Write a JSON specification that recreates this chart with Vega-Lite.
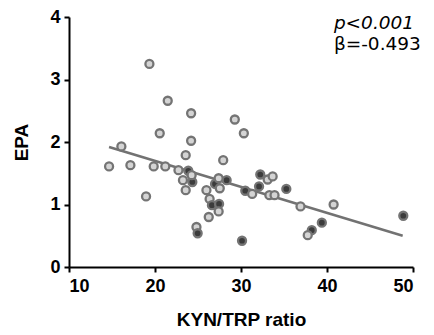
{
  "$schema": "https://vega.github.io/schema/vega-lite/v6.json",
  "width": 344,
  "height": 250,
  "autosize": "none",
  "padding": {"left": 69, "top": 17, "right": 21, "bottom": 68},
  "background": "white",
  "config": {
    "view": {"stroke": null},
    "axis": {
      "grid": false,
      "domainColor": "black",
      "domainWidth": 2,
      "tickColor": "black",
      "tickWidth": 2,
      "tickSize": 5,
      "labelFont": "Liberation Sans",
      "labelFontWeight": "bold",
      "labelFontSize": 18,
      "labelColor": "black",
      "titleFont": "Liberation Sans",
      "titleFontWeight": "bold",
      "titleFontSize": 19,
      "titleColor": "black"
    }
  },
  "layer": [
    {
      "data": {"values": [{"x": 14.66, "y": 1.92}, {"x": 48.8, "y": 0.5}]},
      "mark": {"type": "line", "color": "#727272", "strokeWidth": 2.5},
      "encoding": {
        "x": {"field": "x", "type": "quantitative", "scale": {"domain": [10, 50], "nice": false},
              "axis": {"values": [10, 20, 30, 40, 50], "format": "d", "title": "KYN/TRP ratio", "labelPadding": 5, "titlePadding": 15}},
        "y": {"field": "y", "type": "quantitative", "scale": {"domain": [0, 4], "nice": false},
              "axis": {"values": [0, 1, 2, 3, 4], "format": "d", "title": "EPA", "labelPadding": 4, "titlePadding": 18}}
      }
    },
    {
      "data": {"values": [
        {"x": 19.35, "y": 3.25, "g": "light"},
        {"x": 21.48, "y": 2.66, "g": "light"},
        {"x": 24.2, "y": 2.46, "g": "light"},
        {"x": 29.28, "y": 2.36, "g": "light"},
        {"x": 30.33, "y": 2.14, "g": "light"},
        {"x": 20.55, "y": 2.14, "g": "light"},
        {"x": 24.2, "y": 2.02, "g": "light"},
        {"x": 16.09, "y": 1.93, "g": "light"},
        {"x": 14.66, "y": 1.61, "g": "light"},
        {"x": 17.14, "y": 1.63, "g": "light"},
        {"x": 19.85, "y": 1.61, "g": "light"},
        {"x": 21.2, "y": 1.61, "g": "light"},
        {"x": 23.57, "y": 1.79, "g": "light"},
        {"x": 27.93, "y": 1.71, "g": "light"},
        {"x": 18.96, "y": 1.13, "g": "light"},
        {"x": 23.87, "y": 1.54, "g": "dark"},
        {"x": 24.34, "y": 1.36, "g": "dark"},
        {"x": 22.73, "y": 1.55, "g": "light"},
        {"x": 24.26, "y": 1.47, "g": "light"},
        {"x": 23.25, "y": 1.39, "g": "light"},
        {"x": 23.57, "y": 1.23, "g": "light"},
        {"x": 26.98, "y": 1.33, "g": "dark"},
        {"x": 28.33, "y": 1.39, "g": "dark"},
        {"x": 27.4, "y": 1.42, "g": "light"},
        {"x": 27.53, "y": 1.26, "g": "light"},
        {"x": 25.98, "y": 1.23, "g": "light"},
        {"x": 26.35, "y": 1.09, "g": "light"},
        {"x": 26.62, "y": 0.99, "g": "dark"},
        {"x": 27.45, "y": 1.01, "g": "dark"},
        {"x": 27.4, "y": 0.89, "g": "light"},
        {"x": 26.25, "y": 0.8, "g": "light"},
        {"x": 24.82, "y": 0.64, "g": "light"},
        {"x": 24.96, "y": 0.54, "g": "dark"},
        {"x": 30.12, "y": 0.42, "g": "dark"},
        {"x": 30.5, "y": 1.22, "g": "dark"},
        {"x": 31.3, "y": 1.17, "g": "light"},
        {"x": 32.24, "y": 1.48, "g": "dark"},
        {"x": 32.1, "y": 1.29, "g": "dark"},
        {"x": 33.1, "y": 1.4, "g": "light"},
        {"x": 33.68, "y": 1.45, "g": "light"},
        {"x": 33.3, "y": 1.15, "g": "light"},
        {"x": 33.9, "y": 1.15, "g": "light"},
        {"x": 35.27, "y": 1.25, "g": "dark"},
        {"x": 36.92, "y": 0.97, "g": "light"},
        {"x": 40.77, "y": 1.0, "g": "light"},
        {"x": 39.4, "y": 0.71, "g": "dark"},
        {"x": 38.23, "y": 0.59, "g": "dark"},
        {"x": 37.76, "y": 0.51, "g": "light"},
        {"x": 48.87, "y": 0.82, "g": "dark"}
      ]},
      "mark": {"type": "point", "filled": true, "shape": "circle", "size": 64, "stroke": "#747474", "strokeWidth": 2.3, "opacity": 1},
      "encoding": {
        "x": {"field": "x", "type": "quantitative"},
        "y": {"field": "y", "type": "quantitative"},
        "fill": {"field": "g", "type": "nominal", "scale": {"domain": ["light", "dark"], "range": ["#d4d4d4", "#3c3c3c"]}, "legend": null}
      }
    },
    {
      "data": {"values": [{"x": 40.8, "y": 3.9, "label": "p<0.001"}]},
      "mark": {"type": "text", "align": "left", "baseline": "middle", "font": "DejaVu Sans", "fontSize": 18.5, "fontStyle": "italic", "color": "black"},
      "encoding": {
        "x": {"field": "x", "type": "quantitative"},
        "y": {"field": "y", "type": "quantitative"},
        "text": {"field": "label"}
      }
    },
    {
      "data": {"values": [{"x": 40.8, "y": 3.57, "label": "β=-0.493"}]},
      "mark": {"type": "text", "align": "left", "baseline": "middle", "font": "DejaVu Sans", "fontSize": 18.5, "color": "black"},
      "encoding": {
        "x": {"field": "x", "type": "quantitative"},
        "y": {"field": "y", "type": "quantitative"},
        "text": {"field": "label"}
      }
    }
  ]
}
